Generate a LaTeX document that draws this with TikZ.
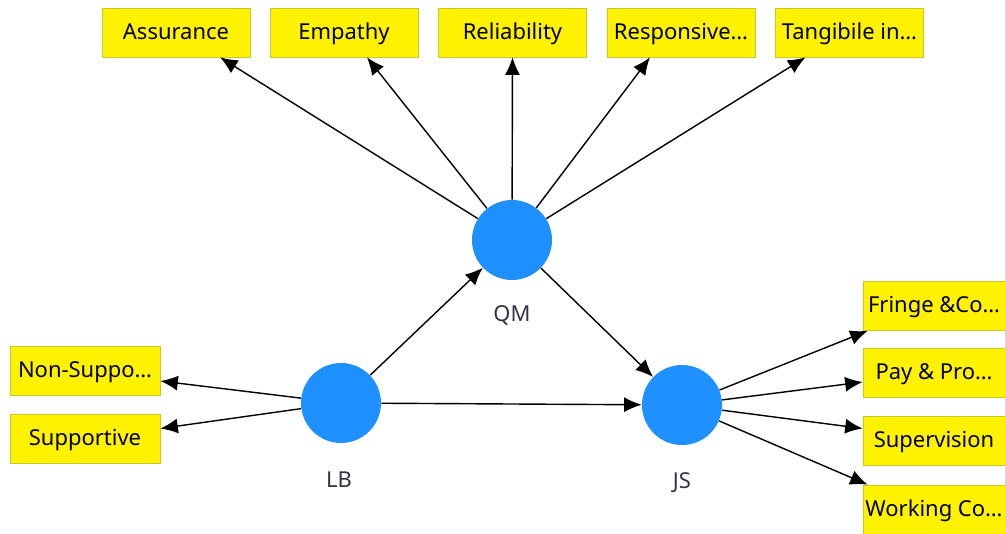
\documentclass[tikz,border=0pt]{standalone}
\usepackage{fontspec}
\setmainfont{Noto Sans}
\usepackage{xcolor}
\usetikzlibrary{arrows.meta, calc, positioning}
\definecolor{plsblue}{RGB}{30,144,255}
\definecolor{boxedge}{RGB}{200,200,40}
\definecolor{labelgray}{RGB}{50,50,70}

\begin{document}
\begin{tikzpicture}[x=0.02cm, y=-0.02cm, font=\fontsize{12.5}{14}\selectfont]
\tikzstyle{indicator}=[draw=boxedge, fill=yellow, minimum height=0.98cm, minimum width=2.96cm, inner sep=0pt, text=black, text depth=0.25ex]
\tikzstyle{latent}=[circle, fill=plsblue, minimum size=1.6cm, inner sep=0pt]
\tikzstyle{latentlabel}=[text=labelgray]
\tikzstyle{link}=[-{Latex[length=3.5mm,width=3mm]}, line width=0.8pt]

\useasboundingbox (0,0) rectangle (1005,534);

\node (qm) at (512,240) [latent] {};
\node (lb) at (341,403) [latent] {};
\node (js) at (682,405) [latent] {};

\node (qml) at (512,315) [latentlabel] {QM};
\node (lbl) at (339,480) [latentlabel] {LB};
\node (jsl) at (682,483) [latentlabel] {JS};

%% quality items
\node (assur) at (176,32.5) [indicator] {Assurance};
\node (empat) at (344,32.5) [indicator] {Empathy};
\node (relia) at (512.5,32.5) [indicator] {Reliability};
\node (respo) at (681,32.5) [indicator] {Responsive…};
\node (tangi) at (849.5,32.5) [indicator] {Tangibile in…};

%% leadership items
\node (nonsup) at (85,371) [indicator, minimum width=3cm] {Non-Suppo…};
\node (suppo) at (85,438.5) [indicator, minimum width=3cm] {Supportive};

%% satisfaction items
\node (fring) at (934,306) [indicator, minimum width=2.84cm] {Fringe \&Co…};
\node (payp) at (934,373) [indicator, minimum width=2.84cm] {Pay \& Pro…};
\node (super) at (934,440.5) [indicator, minimum width=2.84cm] {Supervision};
\node (worki) at (934,509.5) [indicator, minimum width=2.84cm] {Working Co…};

\draw [link] (qm) -- ($(assur.south)+(44,0)$);
\draw [link] (qm) -- ($(empat.south)+(23,0)$);
\draw [link] (qm) -- (relia.south);
\draw [link] (qm) -- ($(respo.south)+(-31,0)$);
\draw [link] (qm) -- ($(tangi.south)+(-44,0)$);

\draw [link] (lb) -- ($(nonsup.east)+(0,10)$);
\draw [link] (lb) -- ($(suppo.east)+(0,-10)$);

\draw [link] (js) -- ($(fring.south west)+(5,0)$);
\draw [link] (js) -- ($(payp.west)+(0,9)$);
\draw [link] (js) -- ($(super.west)+(0,-12)$);
\draw [link] (js) -- ($(worki.north west)+(5,0)$);

\draw [link] (lb) -- (qm);
\draw [link] (lb) -- (js);
\draw [link] (qm) -- (js);
\end{tikzpicture}
\end{document}
